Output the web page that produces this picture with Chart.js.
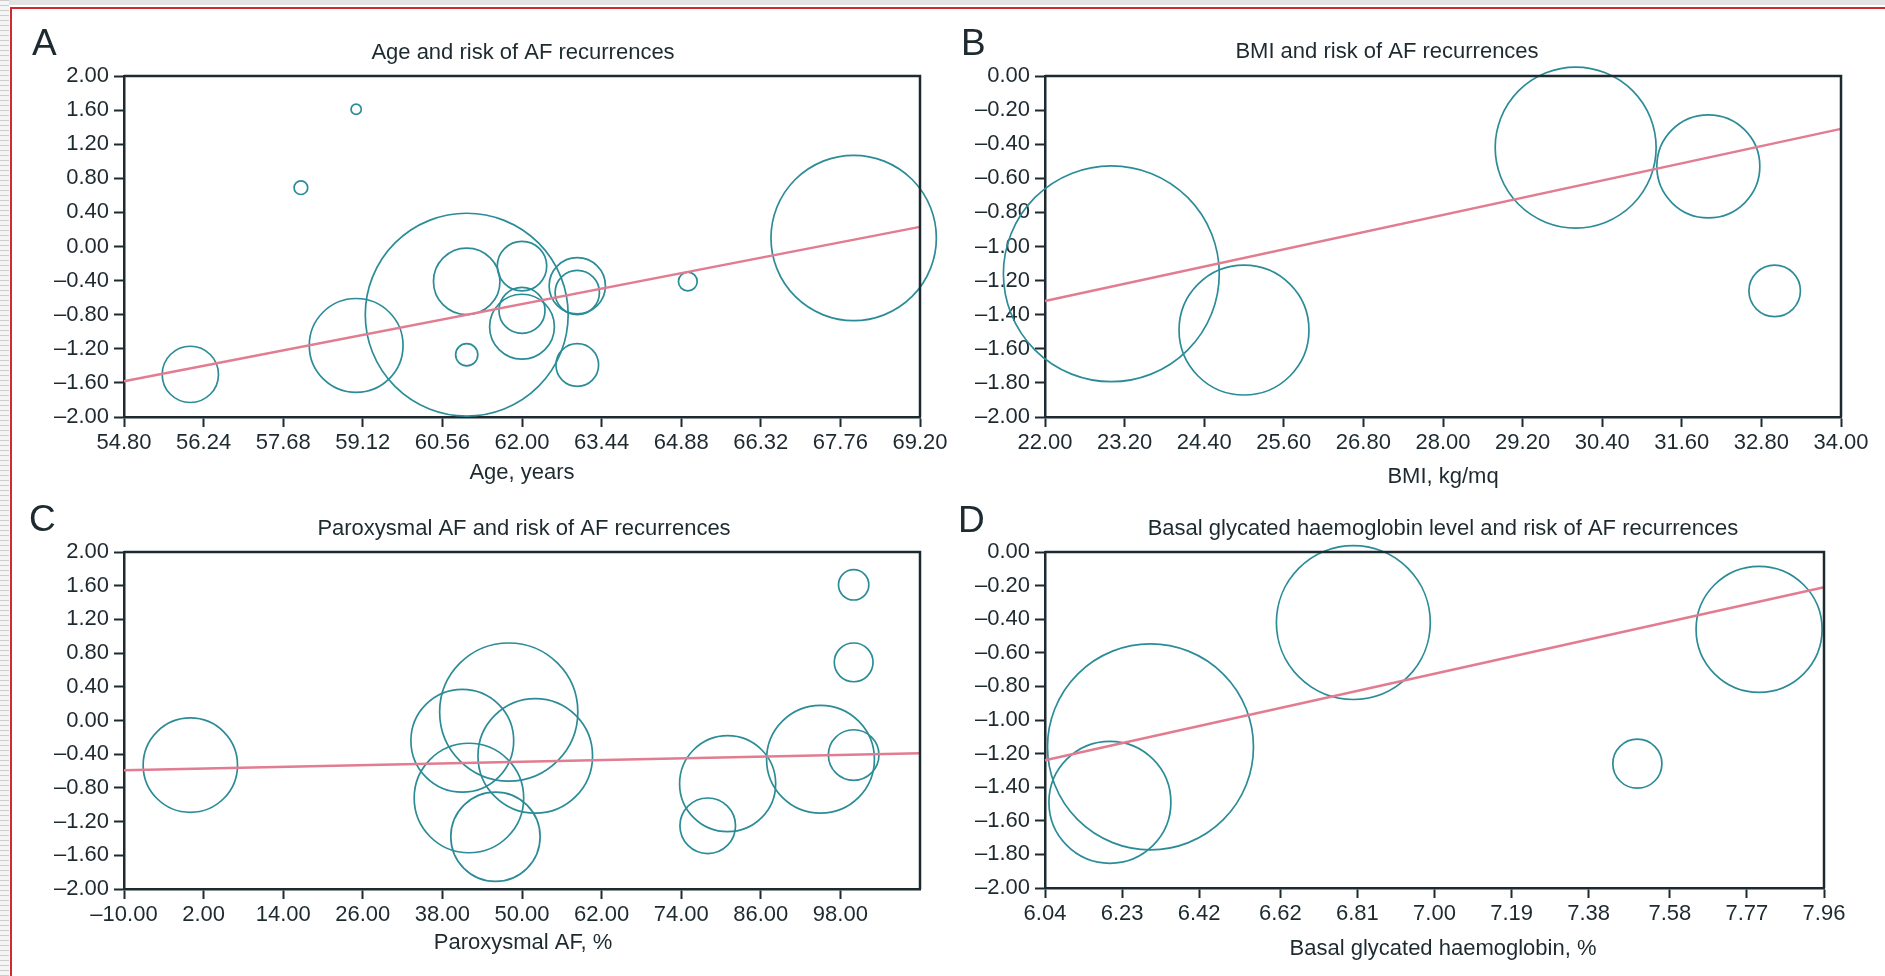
<!DOCTYPE html>
<html>
<head>
<meta charset="utf-8">
<script src="https://cdn.jsdelivr.net/npm/chart.js@4.4.1/dist/chart.umd.min.js"></script>
<style>
  html, body { margin: 0; padding: 0; background: #fff; }
  #page { position: relative; width: 1885px; height: 976px; overflow: hidden; background: #fff; }
  #topband { position: absolute; left: 0; top: 0; width: 1885px; height: 5px; background: #e3e3e3; }
  #stripes { position: absolute; left: 0; top: 0; width: 9px; height: 976px;
    background: repeating-linear-gradient(to bottom, #cdcdcd 0px, #cdcdcd 1px, #f5f5f5 1px, #f5f5f5 5px); }
  #frame { position: absolute; left: 10px; top: 7px; width: 1900px; height: 1000px;
    border-top: 2px solid #cf2a30; border-left: 2px solid #cf2a30; }
  canvas { position: absolute; }
</style>
</head>
<body>
<div id="page">
  <div id="topband"></div>
  <div id="stripes"></div>
  <div id="frame"></div>
  <canvas id="chartA" width="945" height="479" style="left:12px;top:9px"></canvas>
  <canvas id="chartB" width="945" height="479" style="left:940px;top:9px"></canvas>
  <canvas id="chartC" width="945" height="488" style="left:12px;top:488px"></canvas>
  <canvas id="chartD" width="945" height="488" style="left:940px;top:488px"></canvas>
</div>
<script>
// shared y axis ticks (log risk)
const riskTicksAC = [-2.0, -1.6, -1.2, -0.8, -0.4, 0, 0.4, 0.8, 1.2, 1.6, 2.0];
const riskTicksBD = [-2.0, -1.8, -1.6, -1.4, -1.2, -1.0, -0.8, -0.6, -0.4, -0.2, 0];

// A: age
const ageX = [56.0, 58.0, 59.0, 59.0, 61.0, 61.0, 61.0, 62.0, 62.0, 62.0, 63.0, 63.0, 63.0, 65.0, 68.0];
const ageY = [-1.50, 0.69, 1.61, -1.16, -0.80, -0.41, -1.27, -0.23, -0.75, -0.94, -0.46, -0.54, -1.39, -0.41, 0.10];
const ageW = [0.33, 0.08, 0.06, 0.55, 1.19, 0.39, 0.13, 0.29, 0.27, 0.38, 0.33, 0.26, 0.25, 0.11, 0.97];
const ageFit = [-1.58, 0.23];
const ageTicks = [54.80, 56.24, 57.68, 59.12, 60.56, 62.00, 63.44, 64.88, 66.32, 67.76, 69.20];

// B: BMI
const bmiX = [23.0, 25.0, 30.0, 32.0, 33.0];
const bmiY = [-1.16, -1.49, -0.42, -0.53, -1.26];
const bmiW = [0.633, 0.381, 0.472, 0.302, 0.151];
const bmiFit = [-1.32, -0.31];
const bmiTicks = [22.0, 23.2, 24.4, 25.6, 26.8, 28.0, 29.2, 30.4, 31.6, 32.8, 34.0];

// C: paroxysmal AF
const paroxX = [0, 41, 48, 52, 42, 46, 81, 78, 95, 100, 100, 100];
const paroxY = [-0.53, -0.24, 0.10, -0.42, -0.92, -1.38, -0.75, -1.25, -0.46, -0.41, 0.69, 1.61];
const paroxW = [0.56, 0.61, 0.82, 0.68, 0.65, 0.53, 0.57, 0.33, 0.64, 0.30, 0.23, 0.18];
const paroxFit = [-0.59, -0.39];
const paroxTicks = [-10, 2, 14, 26, 38, 50, 62, 74, 86, 98];

// D: glycated haemoglobin
const hbX = [6.30, 6.20, 6.80, 7.50, 7.80];
const hbY = [-1.16, -1.49, -0.42, -1.26, -0.46];
const hbW = [0.613, 0.363, 0.458, 0.146, 0.375];
const hbFit = [-1.24, -0.21];
const hbTicks = [6.04, 6.23, 6.42, 6.62, 6.81, 7.00, 7.19, 7.38, 7.58, 7.77, 7.96];

const ink = "#1d2a30";
const teal = "#2b8c97";
const pink = "#e27c90";
const font = "'Liberation Sans', Arial, Helvetica, sans-serif";

function fmt(v) {
  let s = Math.abs(v).toFixed(2);
  return v < -1e-9 ? "\u2013" + s : s;
}

// letter, title, axis title and the top/right edges of the box
const panelText = {
  id: "panelText",
  afterDraw(chart, args, opts) {
    let ctx = chart.ctx;
    let a = chart.chartArea;
    ctx.save();
    ctx.strokeStyle = ink;
    ctx.lineWidth = 2.5;
    ctx.beginPath();
    ctx.moveTo(a.left, a.top);
    ctx.lineTo(a.right, a.top);
    ctx.lineTo(a.right, a.bottom);
    ctx.stroke();

    ctx.fillStyle = ink;
    ctx.textBaseline = "alphabetic";
    ctx.textAlign = "left";
    ctx.font = "37px " + font;
    ctx.fillText(opts.letter, opts.letterAt[0], opts.letterAt[1]);
    ctx.textAlign = "center";
    ctx.font = "22px " + font;
    ctx.fillText(opts.title, opts.titleAt[0], opts.titleAt[1]);
    ctx.fillText(opts.xTitle, opts.xTitleAt[0], opts.xTitleAt[1]);
    ctx.restore();
  },
};

function makeChart(id, p) {
  let ctx = document.getElementById(id).getContext("2d");
  let pts = p.x.map((x, i) => ({ x: x, y: p.y[i], r: 0 }));

  let chart = new Chart(ctx, {
    type: "bubble",
    data: {
      datasets: [
        {
          type: "line",
          data: [
            { x: p.xMin, y: p.fit[0] },
            { x: p.xMax, y: p.fit[1] },
          ],
          borderColor: pink,
          borderWidth: 2.5,
          pointRadius: 0,
          fill: false,
          clip: false,
        },
        {
          type: "bubble",
          data: pts,
          borderColor: teal,
          backgroundColor: "rgba(0,0,0,0)",
          borderWidth: 1.7,
          clip: false,
        },
      ],
    },
    options: {
      responsive: false,
      animation: false,
      devicePixelRatio: 1,
      events: [],
      layout: {
        autoPadding: false,
        padding: { left: 0, right: p.padRight, top: p.padTop, bottom: 0 },
      },
      plugins: {
        legend: { display: false },
        tooltip: { enabled: false },
        panelText: p.text,
      },
      scales: {
        x: {
          type: "linear",
          min: p.xMin,
          max: p.xMax,
          afterBuildTicks: (s) => {
            s.ticks = p.xTicks.map((v) => ({ value: v }));
          },
          afterFit: (s) => {
            s.height = p.xAxisH;
            s.paddingLeft = 0;
            s.paddingRight = 0;
          },
          ticks: {
            callback: (v) => fmt(v),
            color: ink,
            font: { family: font, size: 22 },
            padding: 3,
            maxRotation: 0,
            autoSkip: false,
          },
          grid: { drawOnChartArea: false, drawTicks: true, tickLength: 10, tickColor: ink, tickWidth: 2 },
          border: { display: true, color: ink, width: 2.5 },
        },
        y: {
          type: "linear",
          min: p.yTicks[0],
          max: p.yTicks[p.yTicks.length - 1],
          afterBuildTicks: (s) => {
            s.ticks = p.yTicks.map((v) => ({ value: v }));
          },
          afterFit: (s) => {
            s.width = p.yAxisW;
            s.paddingTop = 0;
            s.paddingBottom = 0;
          },
          ticks: {
            callback: (v) => fmt(v),
            color: ink,
            font: { family: font, size: 22 },
            padding: 5,
            autoSkip: false,
          },
          grid: { drawOnChartArea: false, drawTicks: true, tickLength: 10, tickColor: ink, tickWidth: 2 },
          border: { display: true, color: ink, width: 2.5 },
        },
      },
    },
    plugins: [panelText],
  });

  // bubble weight is kept in y units, turned into pixels by the y scale
  let s = chart.scales.y;
  let k = Math.abs(s.getPixelForValue(0) - s.getPixelForValue(1));
  chart.data.datasets[1].data.forEach((d, i) => {
    d.r = p.w[i] * k;
  });
  chart.update();
  return chart;
}

makeChart("chartA", {
  x: ageX, y: ageY, w: ageW, fit: ageFit,
  xTicks: ageTicks, yTicks: riskTicksAC, xMin: 54.8, xMax: 69.2,
  padRight: 37, padTop: 67, xAxisH: 71, yAxisW: 112,
  text: {
    letter: "A", letterAt: [20, 46],
    title: "Age and risk of AF recurrences", titleAt: [511, 50],
    xTitle: "Age, years", xTitleAt: [510, 470],
  },
});

makeChart("chartB", {
  x: bmiX, y: bmiY, w: bmiW, fit: bmiFit,
  xTicks: bmiTicks, yTicks: riskTicksBD, xMin: 22, xMax: 34,
  padRight: 44, padTop: 67, xAxisH: 71, yAxisW: 105,
  text: {
    letter: "B", letterAt: [21, 46],
    title: "BMI and risk of AF recurrences", titleAt: [447, 49],
    xTitle: "BMI, kg/mq", xTitleAt: [503, 474],
  },
});

makeChart("chartC", {
  x: paroxX, y: paroxY, w: paroxW, fit: paroxFit,
  xTicks: paroxTicks, yTicks: riskTicksAC, xMin: -10, xMax: 110,
  padRight: 37, padTop: 64, xAxisH: 87, yAxisW: 112,
  text: {
    letter: "C", letterAt: [17, 43],
    title: "Paroxysmal AF and risk of AF recurrences", titleAt: [512, 47],
    xTitle: "Paroxysmal AF, %", xTitleAt: [511, 461],
  },
});

makeChart("chartD", {
  x: hbX, y: hbY, w: hbW, fit: hbFit,
  xTicks: hbTicks, yTicks: riskTicksBD, xMin: 6.04, xMax: 7.96,
  padRight: 61, padTop: 64, xAxisH: 88, yAxisW: 105,
  text: {
    letter: "D", letterAt: [18, 44],
    title: "Basal glycated haemoglobin level and risk of AF recurrences", titleAt: [503, 47],
    xTitle: "Basal glycated haemoglobin, %", xTitleAt: [503, 467],
  },
});
</script>
</body>
</html>
